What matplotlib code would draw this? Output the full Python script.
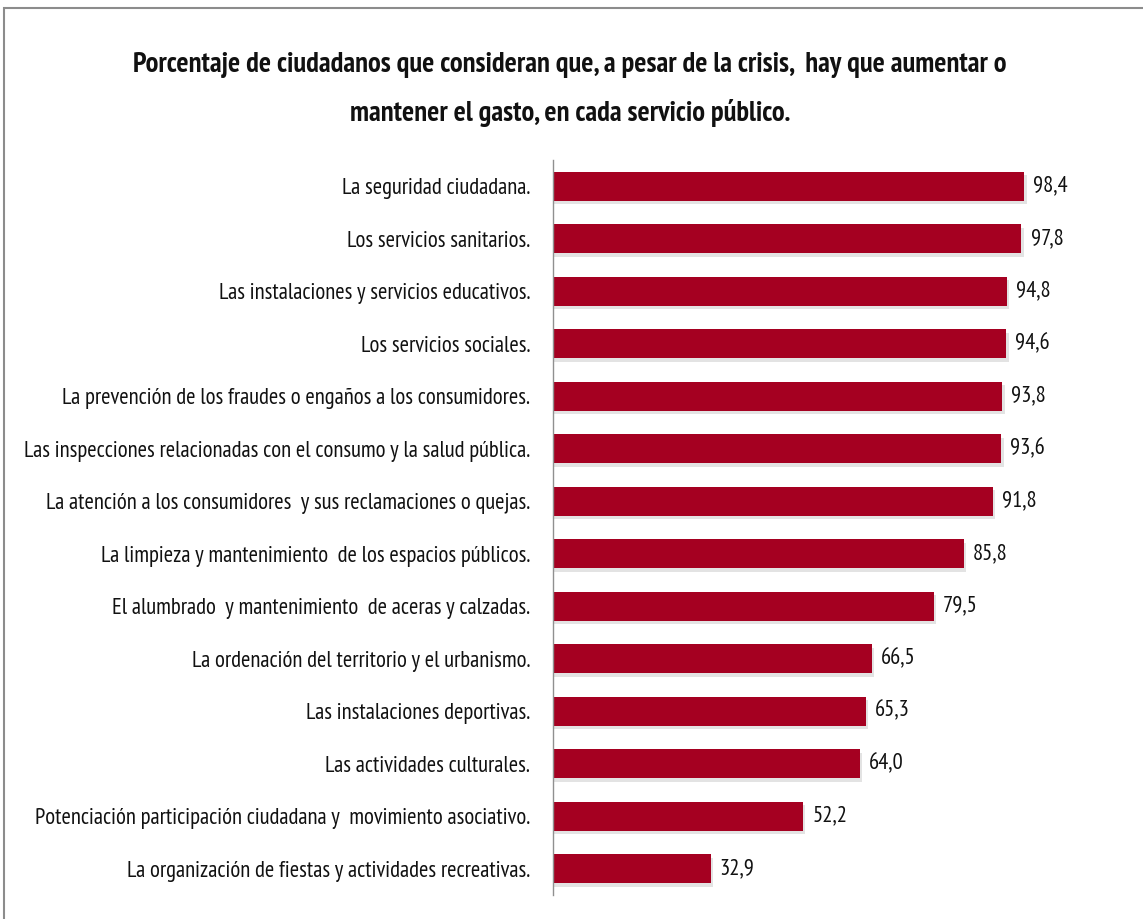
import matplotlib
matplotlib.use("Agg")
import matplotlib.pyplot as plt

categorias = [
    "La seguridad ciudadana.",
    "Los servicios sanitarios.",
    "Las instalaciones y servicios educativos.",
    "Los servicios sociales.",
    "La prevención de los fraudes o engaños a los consumidores.",
    "Las inspecciones relacionadas con el consumo y la salud pública.",
    "La atención a los consumidores  y sus reclamaciones o quejas.",
    "La limpieza y mantenimiento  de los espacios públicos.",
    "El alumbrado  y mantenimiento  de aceras y calzadas.",
    "La ordenación del territorio y el urbanismo.",
    "Las instalaciones deportivas.",
    "Las actividades culturales.",
    "Potenciación participación ciudadana y  movimiento asociativo.",
    "La organización de fiestas y actividades recreativas.",
]
valores = [98.4, 97.8, 94.8, 94.6, 93.8, 93.6, 91.8, 85.8, 79.5, 66.5, 65.3, 64.0, 52.2, 32.9]
titulo = ["Porcentaje de ciudadanos que consideran que, a pesar de la crisis,  hay que aumentar o",
          "mantener el gasto, en cada servicio público."]

plt.rcParams["font.family"] = ["PT Sans Narrow", "DejaVu Sans"]

W, H = 1143, 919
fig = plt.figure(figsize=(W / 100, H / 100), dpi=100)
renderer = fig.canvas.get_renderer()


def ancho(texto, size, weight="normal"):
    t = fig.text(0, 0, texto, fontsize=size, fontweight=weight)
    w = t.get_window_extent(renderer).width
    t.remove()
    return w


# tamaño de letra ajustado al ancho de la etiqueta más larga (510 px) y del título (875 px)
fs_lab = 14 * 510 / max(ancho(c, 14) for c in categorias)
fs_tit = 18 * 875 / ancho(titulo[0], 18, "bold")

# marco gris del gráfico
marco = plt.Rectangle((4 / W, -0.01), 1.2, (H - 8) / H + 0.01, transform=fig.transFigure,
                      fill=False, edgecolor="#8c8c8c", linewidth=1.5)
fig.patches.append(marco)

ax = fig.add_axes([553 / W, 1 - 895 / H, (1032 - 553) / W, (895 - 160) / H])
y = list(range(len(valores)))
color = "#a50021"

# sombra suave
ax.barh([v + 0.07 for v in y], [v + 0.5 for v in valores], height=0.55, left=0,
        color="#b0b0b0", alpha=0.35, zorder=1)
ax.barh(y, valores, height=0.55, color=color, zorder=2)

for yi, v in zip(y, valores):
    ax.text(v + 1.9, yi, f"{v:.1f}".replace(".", ","), va="center", ha="left",
            fontsize=fs_lab, color="#111111")

ax.set_yticks(y)
ax.set_yticklabels(categorias, fontsize=fs_lab, color="#111111")
ax.tick_params(axis="y", length=0, pad=16.5)
ax.set_xticks([])
ax.set_xlim(0, 100)
ax.set_ylim(len(valores) - 0.5, -0.5)
for s in ["top", "right", "bottom"]:
    ax.spines[s].set_visible(False)
ax.spines["left"].set_color("#909090")
ax.spines["left"].set_linewidth(1.0)

fig.text(570 / W, 1 - 65 / H, titulo[0], ha="center", va="center", fontsize=fs_tit,
         fontweight="bold", color="#111111")
fig.text(570 / W, 1 - 113 / H, titulo[1], ha="center", va="center", fontsize=fs_tit,
         fontweight="bold", color="#111111")

fig.savefig("out.png", dpi=100)
